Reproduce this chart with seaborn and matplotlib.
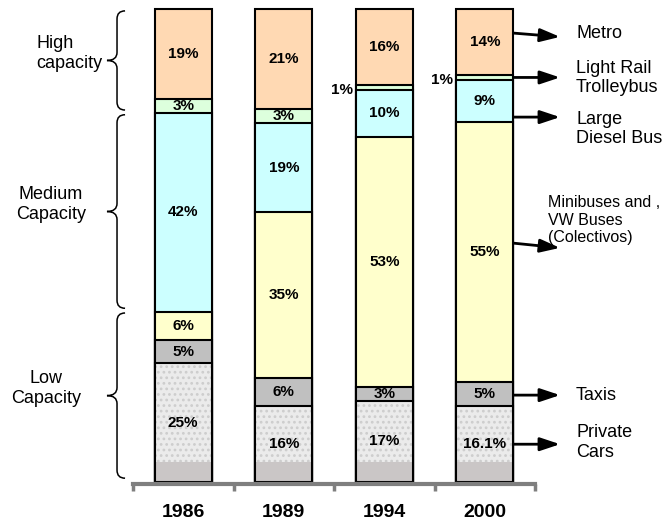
import numpy as np
import pandas as pd
import matplotlib
matplotlib.use('Agg')
import matplotlib.pyplot as plt
import seaborn as sns
from matplotlib.path import Path
from matplotlib.patches import PathPatch, Rectangle

# Daten: Anteile der Verkehrsmittel (%) je Jahr, von unten nach oben gestapelt
years = ['1986', '1989', '1994', '2000']
modes = ['Private Cars', 'Taxis', 'Minibuses', 'Large Diesel Bus',
         'Light Rail', 'Metro']
private_cars = [25, 16, 17, 16.1]
taxis = [5, 6, 3, 5]
minibuses = [6, 35, 53, 55]
diesel_bus = [42, 19, 10, 9]
light_rail = [3, 3, 1, 1]
metro = [19, 21, 16, 14]

mode_labels = ['Private\nCars', 'Taxis', 'Minibuses and ,\nVW Buses\n(Colectivos)',
               'Large\nDiesel Bus', 'Light Rail\nTrolleybus', 'Metro']
group_labels = ['Low\nCapacity', 'Medium\nCapacity', 'High\ncapacity']
# Anzahl der Segmente (von unten) je Gruppe, wie im Bild an 1986 ausgerichtet
group_sizes = [3, 1, 2]

colors = ['#ebebeb', '#c0c0c0', '#ffffcc', '#ccffff', '#ddffdd', '#ffd9b3']

sns.set_style('white')
plt.rcParams['font.family'] = ['Liberation Sans', 'DejaVu Sans']
plt.rcParams['text.color'] = 'black'
plt.rcParams['xtick.color'] = 'black'
plt.rcParams['hatch.linewidth'] = 1.2

stack = [private_cars, taxis, minibuses, diesel_bus, light_rail, metro]
rows = []
for mode, vals in zip(modes, stack):
    for year, v in zip(years, vals):
        rows.append({'year': year, 'mode': mode, 'share': v})
df = pd.DataFrame(rows)
df['top'] = df.groupby('year')['share'].cumsum()
df['bottom'] = df['top'] - df['share']

fig = plt.figure(figsize=(6.67, 5.24), dpi=100)
ax = fig.add_axes([0.1994, 0.0811, 0.6027, 0.9008])

bar_w = 0.57
# Kumulierte Balken von oben nach unten zeichnen, kleinere überdecken größere
for mode, color in reversed(list(zip(modes, colors))):
    sub = df[df['mode'] == mode]
    sns.barplot(data=sub, x='year', y='top', order=years, color=color,
                saturation=1, width=bar_w, edgecolor='black', linewidth=1.5,
                errorbar=None, ax=ax)

# Textur für Private Cars (letzter Container)
for p in ax.containers[-1].patches:
    p.set_edgecolor('#cdcdcd')
    p.set_linewidth(0)
    p.set_hatch('...')
    x0, w, h = p.get_x(), p.get_width(), p.get_height()
    ax.add_patch(Rectangle((x0, 0), w, 4.2, facecolor='#cac6c6',
                           edgecolor='none'))
    ax.add_patch(Rectangle((x0, 0), w, h, fill=False, edgecolor='black',
                           linewidth=1.5))

for p in ax.patches:
    p.set_clip_on(False)

# Prozentbeschriftungen
for _, r in df.iterrows():
    i = years.index(r['year'])
    cy = r['bottom'] + r['share'] / 2
    label = f"{r['share']:g}%"
    if r['share'] < 2:
        ax.text(i - bar_w / 2 - 0.03, cy - 0.6, label, ha='right',
                va='center', fontsize=11, fontweight='bold')
    else:
        ax.text(i, cy, label, ha='center', va='center', fontsize=11,
                fontweight='bold')

ax.set_xlim(-0.5, 3.5)
ax.set_ylim(0, 100)
ax.set_xlabel('')
ax.set_ylabel('')
ax.set_yticks([])
for s in ['left', 'top', 'right']:
    ax.spines[s].set_visible(False)
ax.spines['bottom'].set_color('#7f7f7f')
ax.spines['bottom'].set_linewidth(3)
ax.spines['bottom'].set_position(('outward', 2))
ax.set_xticks(range(len(years)))
ax.set_xticklabels(years, fontsize=14, fontweight='bold')
ax.set_xticks(np.arange(-0.5, len(years), 1), minor=True)
ax.tick_params(axis='x', which='major', bottom=True, length=0, pad=14)
ax.tick_params(axis='x', which='minor', bottom=True, length=5, width=2.5,
               color='#7f7f7f', direction='out')


def brace(ax, x, y0, y1, depth=0.1, curl=0.08, r=1.7):
    """Geschweifte Klammer links neben den Balken zeichnen."""
    m = (y0 + y1) / 2
    verts = [(x + curl, y1), (x, y1), (x, y1 - r), (x, m + r), (x, m),
             (x - depth, m), (x, m), (x, m - r), (x, y0 + r), (x, y0),
             (x + curl, y0)]
    codes = [Path.MOVETO, Path.CURVE3, Path.CURVE3, Path.LINETO,
             Path.CURVE3, Path.CURVE3, Path.CURVE3, Path.CURVE3,
             Path.LINETO, Path.CURVE3, Path.CURVE3]
    ax.add_patch(PathPatch(Path(verts, codes), fill=False, lw=1.1,
                           edgecolor='black', clip_on=False))


# Klammern an den Segmenten von 1986 ausrichten
first = [vals[0] for vals in stack]
edges = np.concatenate([[0], np.cumsum(first)])
bounds = np.cumsum([0] + group_sizes)
group_text = [(-1.366, 'center'), (-1.316, 'center'), (-1.465, 'left')]
for k, label in enumerate(group_labels):
    y0 = edges[bounds[k]] + 0.7
    y1 = edges[bounds[k + 1]] - 0.3
    brace(ax, -0.659, y0, y1)
    tx, ha = group_text[k]
    ax.text(tx, (y0 + y1) / 2 + 1.5, label, ha=ha, va='center',
            fontsize=13, multialignment=ha)

# Pfeile und Legende rechts neben dem Balken 2000
arrow_layout = [  # (y Start, y Spitze, Text x, Text y, Schriftgröße)
    (7.9, 7.9, 3.908, 8.2, 13),
    (18.3, 18.3, 3.908, 18.3, 13),
    (50.5, 49.5, 3.629, 55.4, 11.5),
    (77.2, 77.2, 3.908, 74.7, 13),
    (85.6, 85.6, 3.908, 85.5, 13),
    (95.0, 94.2, 3.908, 95.0, 13),
]
x_start = len(years) - 1 + bar_w / 2
for label, (ya, yb, tx, ty, fs) in zip(mode_labels, arrow_layout):
    ax.annotate('', xy=(3.749, yb), xytext=(x_start, ya),
                arrowprops=dict(arrowstyle='-|>,head_length=0.6,head_width=0.2',
                                lw=2, color='black', mutation_scale=20,
                                shrinkA=0, shrinkB=0),
                annotation_clip=False)
    ax.text(tx, ty, label, ha='left', va='center', fontsize=fs)

plt.savefig('out.png', dpi=100)
